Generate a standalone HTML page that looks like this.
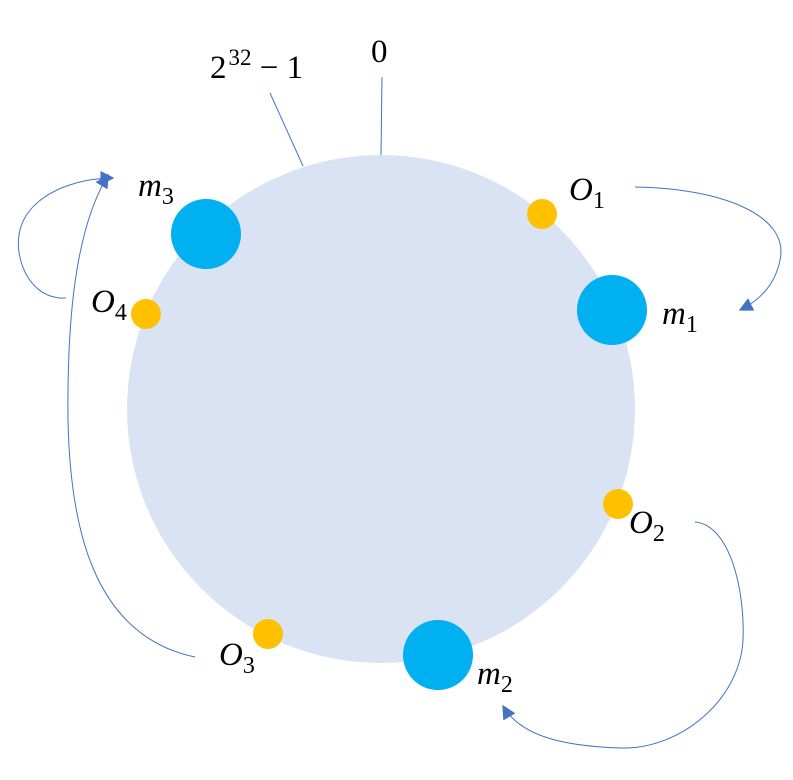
<!DOCTYPE html>
<html>
<head>
<meta charset="utf-8">
<style>
html,body{margin:0;padding:0;background:#fff;}
svg{display:block;}
text{font-family:"Liberation Serif",serif;fill:#000;}
</style>
</head>
<body>
<svg width="793" height="780" viewBox="0 0 793 780">
<defs>
<marker id="ah" viewBox="0 0 10 10" refX="9" refY="5" markerWidth="14" markerHeight="14" markerUnits="userSpaceOnUse" orient="auto">
<path d="M0,0 L10,5 L0,10 z" fill="#4472c4"/>
</marker>
</defs>
<circle cx="381" cy="409" r="254" fill="#dae3f3"/>
<line x1="382" y1="77" x2="381" y2="155" stroke="#4472c4" stroke-width="1"/>
<line x1="270" y1="93" x2="303" y2="166" stroke="#4472c4" stroke-width="1"/>
<text x="371" y="62" font-size="33">0</text>
<text x="210" y="78" font-size="33">2<tspan dx="2" dy="-13" font-size="23">32</tspan><tspan dy="13"> − 1</tspan></text>

<path d="M635,187 C720,188 790,215 780,260 C775,285 760,300 740,310" fill="none" stroke="#4472c4" stroke-width="1" marker-end="url(#ah)"/>
<path d="M695,522 C730,525 745,590 743,640 C740,700 680,750 620,748 C560,746 520,735 503,706" fill="none" stroke="#4472c4" stroke-width="1" marker-end="url(#ah)"/>
<path d="M195,657 C90,635 70,520 68,420 C67,320 75,230 108,175" fill="none" stroke="#4472c4" stroke-width="1" marker-end="url(#ah)"/>
<path d="M66,298 C30,300 15,260 19,235 C25,195 75,178 113,178" fill="none" stroke="#4472c4" stroke-width="1" marker-end="url(#ah)"/>

<circle cx="206" cy="234" r="35" fill="#00b0f0"/>
<circle cx="612" cy="310" r="35" fill="#00b0f0"/>
<circle cx="438" cy="655" r="35" fill="#00b0f0"/>
<circle cx="542" cy="214" r="15" fill="#ffc000"/>
<circle cx="146" cy="314" r="15" fill="#ffc000"/>
<circle cx="618" cy="504" r="15" fill="#ffc000"/>
<circle cx="268" cy="634" r="15" fill="#ffc000"/>

<g font-style="italic" font-size="33">
<text x="138" y="196">m<tspan dy="8" font-size="24" font-style="normal">3</tspan></text>
<text x="662" y="324">m<tspan dy="8" font-size="24" font-style="normal">1</tspan></text>
<text x="477" y="684">m<tspan dy="8" font-size="24" font-style="normal">2</tspan></text>
<text x="569" y="200">O<tspan dy="8" font-size="24" font-style="normal">1</tspan></text>
<text x="91" y="312">O<tspan dy="8" font-size="24" font-style="normal">4</tspan></text>
<text x="629" y="533">O<tspan dy="8" font-size="24" font-style="normal">2</tspan></text>
<text x="219" y="665">O<tspan dy="8" font-size="24" font-style="normal">3</tspan></text>
</g>
</svg>
</body>
</html>
